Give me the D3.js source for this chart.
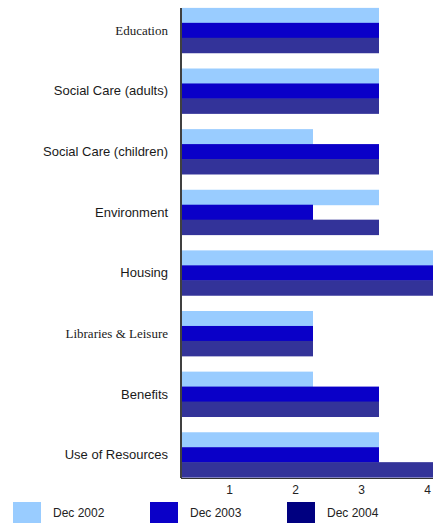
<!DOCTYPE html>
<html>
<head>
<meta charset="utf-8">
<script src="https://cdn.jsdelivr.net/npm/d3@7"></script>
<style>
  html, body { margin: 0; padding: 0; background: #ffffff; }
  svg { display: block; }
</style>
</head>
<body>
<svg id="chart" width="433" height="523"></svg>
<script>
const categories = ["Education", "Social Care (adults)", "Social Care (children)", "Environment", "Housing", "Libraries & Leisure", "Benefits", "Use of Resources"];
const serifCategories = ["Education", "Libraries & Leisure"];
const seriesNames = ["Dec 2002", "Dec 2003", "Dec 2004"];
const dec2002 = [3, 3, 2, 3, 4, 2, 2, 3];
const dec2003 = [3, 3, 3, 2, 4, 2, 3, 3];
const dec2004 = [3, 3, 3, 3, 4, 2, 3, 4];
const xTicks = [1, 2, 3, 4];
const barColors = ["#99ccff", "#0a00c8", "#333399"];
const legendColors = ["#99ccff", "#0a00c8", "#000080"];

const seriesValues = [dec2002, dec2003, dec2004];
const svg = d3.select("#chart");

const x0 = 181;
const x = d3.scaleLinear().domain([0, 4]).range([x0, x0 + 4 * 66]);
const y = d3.scaleBand().domain(categories).range([0, 485]).paddingInner(0.26).paddingOuter(0.13);
const ySub = d3.scaleBand().domain(seriesNames).range([0, y.bandwidth()]).padding(0);

const defs = svg.append("defs");
defs.append("clipPath").attr("id", "clip").append("rect").attr("x", 0).attr("y", 0).attr("width", 433).attr("height", 523);

// vertical axis line
svg.append("line")
  .attr("x1", x0).attr("x2", x0)
  .attr("y1", y(categories[0])).attr("y2", 478)
  .attr("stroke", "#000").attr("stroke-width", 1.5);

// bars
const groups = svg.append("g").attr("clip-path", "url(#clip)")
  .selectAll("g.grp").data(categories).join("g")
  .attr("transform", d => `translate(0,${y(d)})`);

groups.selectAll("rect")
  .data((c, i) => seriesNames.map((s, j) => ({ s, j, v: seriesValues[j][i] })))
  .join("rect")
  .attr("x", x0 + 1)
  .attr("y", d => ySub(d.s))
  .attr("width", d => x(d.v) - x0 - 1)
  .attr("height", ySub.bandwidth() + 0.5)
  .attr("fill", d => barColors[d.j]);

// category labels
svg.append("g").selectAll("text").data(categories).join("text")
  .attr("x", 168)
  .attr("y", d => y(d) + y.bandwidth() / 2)
  .attr("dy", "0.35em")
  .attr("text-anchor", "end")
  .attr("font-family", d => serifCategories.includes(d) ? "'Liberation Serif', 'DejaVu Serif', serif" : "'Liberation Sans', Arial, sans-serif")
  .attr("font-size", 13)
  .attr("fill", "#1a1a1a")
  .text(d => d);

// x axis
const xAxis = d3.axisBottom(x).tickValues(xTicks).tickSize(0).tickPadding(7).tickFormat(d3.format("d"));
const ax = svg.append("g").attr("transform", "translate(0,478)").call(xAxis);
ax.select(".domain").attr("stroke", "#333").attr("stroke-width", 1).attr("d", `M${x0},0.5H433`);
ax.selectAll("text")
  .attr("dx", -18)
  .attr("font-family", "'Liberation Sans', Arial, sans-serif")
  .attr("font-size", 12)
  .attr("fill", "#222");

// legend
const legendX = [13, 150, 287];
const leg = svg.append("g").selectAll("g").data(seriesNames).join("g")
  .attr("transform", (d, i) => `translate(${legendX[i]},502)`);
leg.append("rect").attr("width", 28).attr("height", 21).attr("fill", (d, i) => legendColors[i]);
leg.append("text")
  .attr("x", 40).attr("y", 15)
  .attr("font-family", "'Liberation Sans', Arial, sans-serif")
  .attr("font-size", 12)
  .attr("fill", "#222")
  .text(d => d);
</script>
</body>
</html>
